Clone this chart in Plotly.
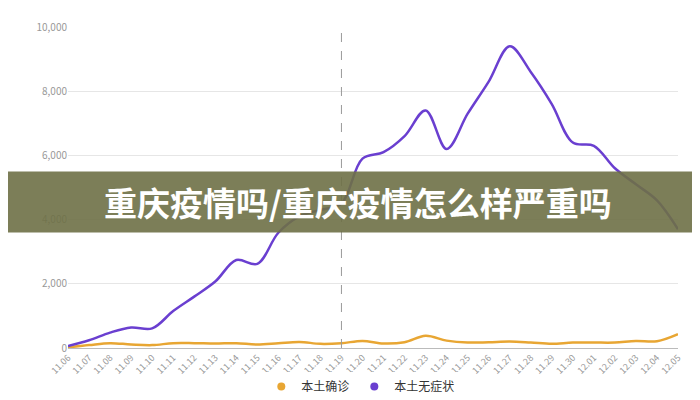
import plotly.graph_objects as go

dates = ['11.06', '11.07', '11.08', '11.09', '11.10', '11.11', '11.12', '11.13', '11.14', '11.15',
         '11.16', '11.17', '11.18', '11.19', '11.20', '11.21', '11.22', '11.23', '11.24', '11.25',
         '11.26', '11.27', '11.28', '11.29', '11.30', '12.01', '12.02', '12.03', '12.04', '12.05']
confirmed = [20, 90, 150, 110, 90, 150, 150, 140, 150, 110, 150, 190, 130, 150, 220, 140, 180, 380, 230, 170,
             180, 200, 170, 130, 170, 170, 170, 220, 210, 430]
asymptomatic = [60, 240, 480, 640, 610, 1150, 1600, 2070, 2740, 2620, 3590, 4100, 4300, 4500, 5900, 6100, 6600,
                7400, 6200, 7300, 8300, 9400, 8600, 7600, 6400, 6300, 5600, 5100, 4600, 3700]
names = ['本土确诊', '本土无症状']
colors = ['#e8a633', '#6a3fd0']

fig = go.Figure()
for name, ys, c in zip(names, [confirmed, asymptomatic], colors):
    fig.add_trace(go.Scatter(x=dates, y=ys, name=name, mode='lines', showlegend=False,
                             line=dict(color=c, width=2.5, shape='spline')))
    # legend entry with dot marker
    fig.add_trace(go.Scatter(x=[None], y=[None], name=name, mode='markers',
                             marker=dict(color=c, size=8)))

fig.add_shape(type='line', xref='x', yref='paper', x0=13, x1=13, y0=0, y1=1,
              line=dict(color='#999', width=1, dash='dash'))

# banner overlay
fig.add_shape(type='rect', xref='paper', yref='paper', x0=-0.11, x1=1.06, y0=0.36, y1=0.55,
              fillcolor='rgba(110,112,70,0.9)', line_width=0, layer='above')
fig.add_annotation(text='<b>重庆疫情吗/重庆疫情怎么样严重吗</b>', xref='paper', yref='paper',
                   x=0.475, y=0.455, showarrow=False,
                   font=dict(size=33, color='white', family='Noto Sans CJK SC'))

fig.update_layout(
    width=700, height=400, paper_bgcolor='white', plot_bgcolor='white',
    margin=dict(l=60, r=30, t=19, b=60, autoexpand=False),
    font=dict(family='Noto Sans CJK SC', color='#666', size=10),
    legend=dict(orientation='h', x=0.48, xanchor='center', y=-0.075, yanchor='top',
                font=dict(size=12, color='#333')),
)
fig.update_xaxes(tickangle=-45, showgrid=False, showline=True, linecolor='#bbb', automargin=False,
                 tickfont=dict(size=9, color='#999'))
fig.update_yaxes(range=[0, 10000], dtick=2000, tickformat=',', gridcolor='#e6e6e6', automargin=False,
                 zeroline=False, tickfont=dict(size=10, color='#999'))

fig.write_html("out.html")
